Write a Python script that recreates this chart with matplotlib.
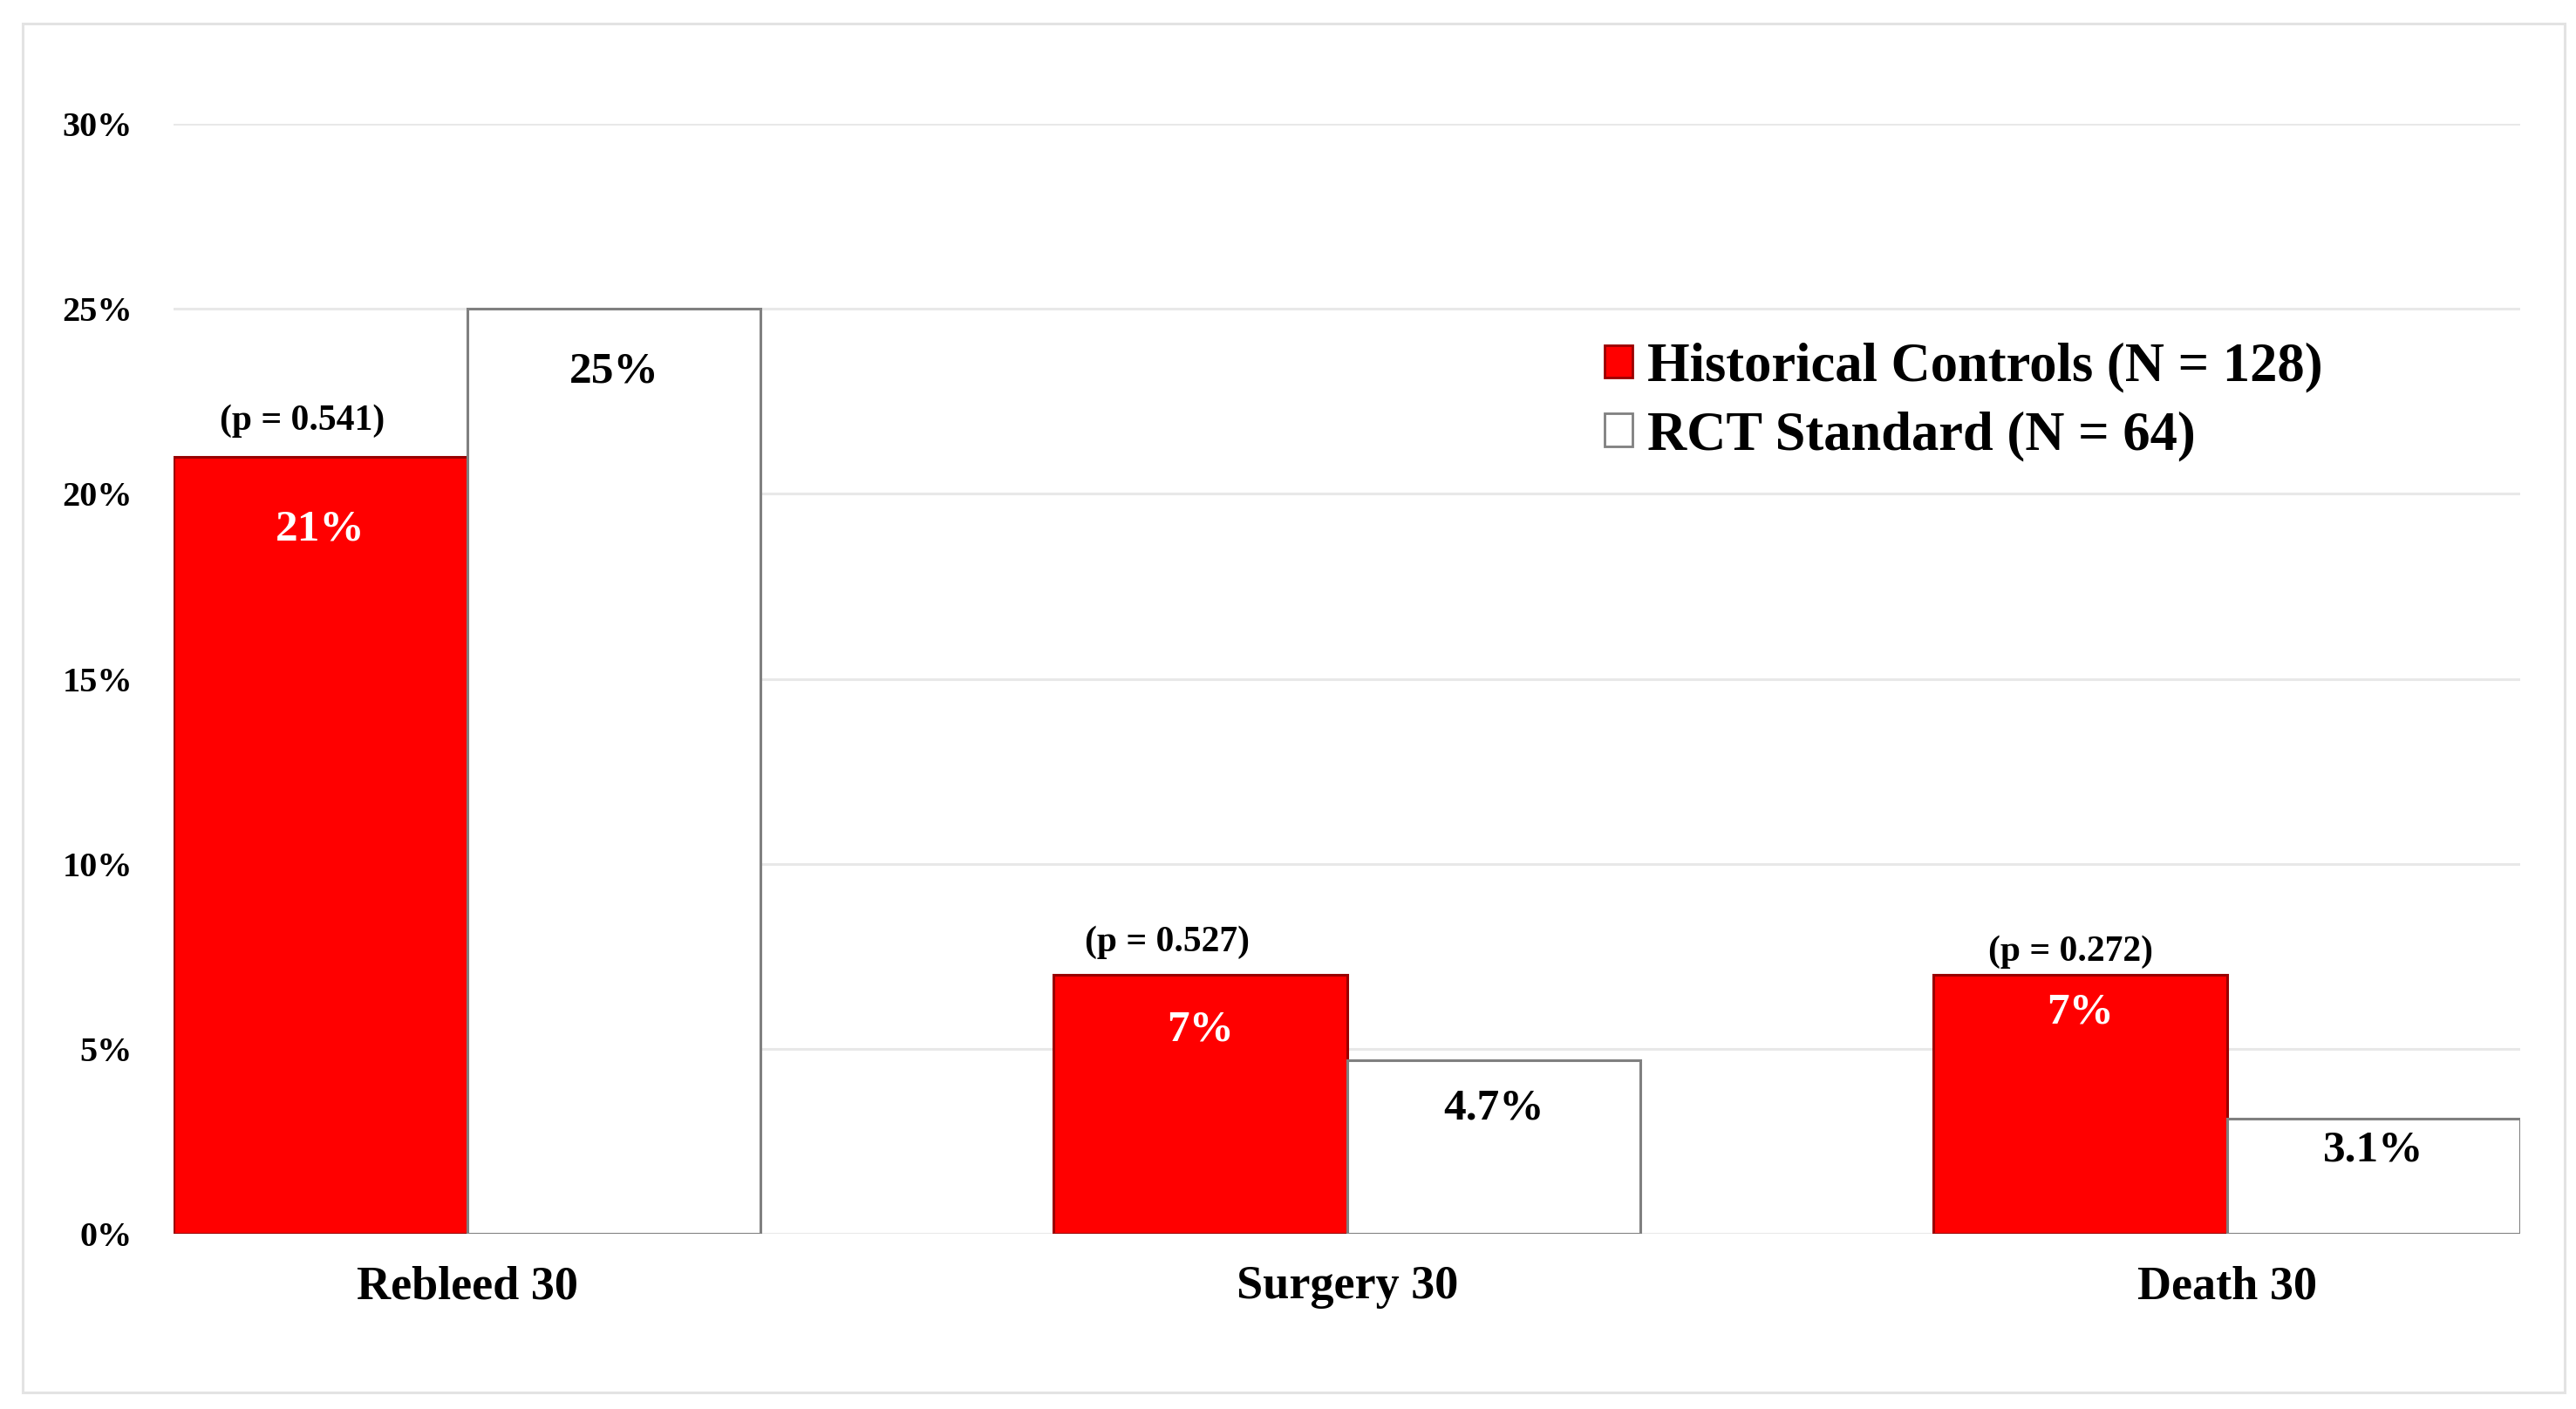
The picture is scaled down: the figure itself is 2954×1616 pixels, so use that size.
import matplotlib
matplotlib.use("Agg")
import matplotlib.pyplot as plt
from matplotlib.patches import Rectangle, Patch
import numpy as np

# ---- data ----
categories = ['Rebleed 30', 'Surgery 30', 'Death 30']
historical = [21, 7, 7]
rct = [25, 4.7, 3.1]
hist_labels = ['21%', '7%', '7%']
rct_labels = ['25%', '4.7%', '3.1%']
p_labels = ['(p = 0.541)', '(p = 0.527)', '(p = 0.272)']
yticks = [0, 5, 10, 15, 20, 25, 30]
ytick_labels = ['0%', '5%', '10%', '15%', '20%', '25%', '30%']
legend_labels = ['Historical Controls (N = 128)', 'RCT Standard (N = 64)']

# ---- style ----
plt.rcParams['font.family'] = ['Liberation Serif', 'DejaVu Serif']
plt.rcParams['font.weight'] = 'bold'

W, H, DPI = 2954, 1616, 100
fig = plt.figure(figsize=(W / DPI, H / DPI), dpi=DPI, facecolor='white')

# outer light border
fig.patches.append(Rectangle((0.0089, 0.0118), 0.9867, 0.9712, transform=fig.transFigure,
                             fill=False, edgecolor='#e3e3e3', linewidth=2.2))

ax = fig.add_axes([0.0674, 0.1244, 0.9110, 0.7876])
w = 0.3336
x = np.arange(len(categories))

ax.set_xlim(-w, len(categories) - 1 + w)
ax.set_ylim(0, 30)
ax.set_yticks(yticks)
ax.set_yticklabels(ytick_labels, fontsize=29, fontweight='bold')
ax.yaxis.grid(True, color='#e8e8e8', linewidth=2.2)
ax.set_axisbelow(True)
for s in ax.spines.values():
    s.set_visible(False)
ax.tick_params(axis='y', length=0, pad=34)
ax.tick_params(axis='x', length=0, pad=26)
ax.set_xticks(x)
ax.set_xticklabels(categories, fontsize=39, fontweight='bold')

b1 = ax.bar(x - w / 2, historical, width=w, color='#ff0000', edgecolor='#990000', linewidth=2.2, zorder=3)
b2 = ax.bar(x + w / 2, rct, width=w, color='white', edgecolor='#808080', linewidth=2.2, zorder=3)

# label offsets (points below bar top)
hist_off = [60, 46, 31]
rct_off = [52, 40, 26]
for i in range(len(categories)):
    ax.annotate(hist_labels[i], (x[i] - w / 2, historical[i]), xytext=(0, -hist_off[i]),
                textcoords='offset points', ha='center', va='center', color='white',
                fontsize=37, fontweight='bold', zorder=5)
    ax.annotate(rct_labels[i], (x[i] + w / 2, rct[i]), xytext=(0, -rct_off[i]),
                textcoords='offset points', ha='center', va='center', color='black',
                fontsize=37, fontweight='bold', zorder=5)

p_dx = [-15, -27, -8]
p_dy = [30, 27, 19]
for i in range(len(categories)):
    ax.annotate(p_labels[i], (x[i] - w / 2, historical[i]), xytext=(p_dx[i], p_dy[i]),
                textcoords='offset points', ha='center', va='center', color='black',
                fontsize=30, fontweight='bold', zorder=6)

handles = [Patch(facecolor='#ff0000', edgecolor='#990000', linewidth=2.0),
           Patch(facecolor='white', edgecolor='#808080', linewidth=2.0)]
leg = fig.legend(handles, legend_labels, loc='upper left', bbox_to_anchor=(0.623, 0.757),
                 frameon=False, prop={'weight': 'bold', 'size': 45},
                 handlelength=0.5, handleheight=0.55, handletextpad=0.28,
                 labelspacing=0.33, borderpad=0, borderaxespad=0)

fig.savefig('out.png', dpi=DPI, facecolor='white')
